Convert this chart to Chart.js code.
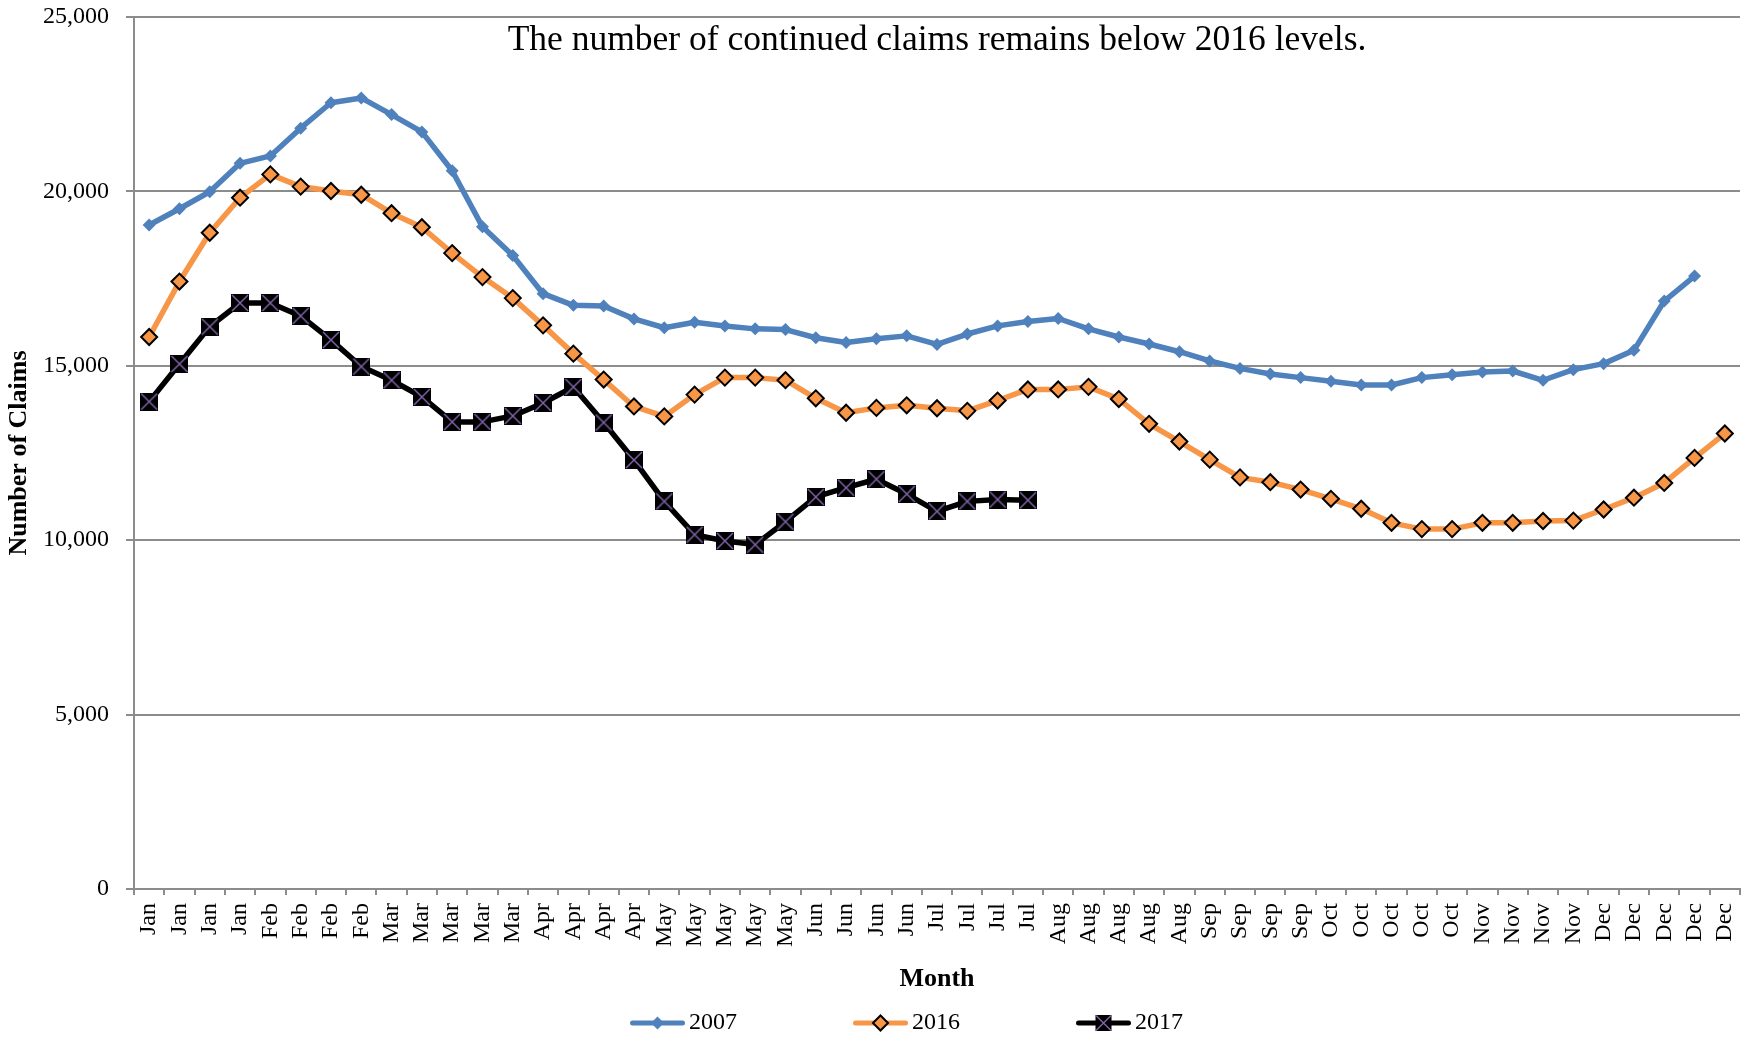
<!DOCTYPE html>
<html>
<head>
<meta charset="utf-8">
<script src="https://cdn.jsdelivr.net/npm/chart.js@4.4.0/dist/chart.umd.min.js"></script>
<style>
html,body{margin:0;padding:0;background:#ffffff;overflow:hidden;}
#wrap{width:1750px;height:1037px;position:relative;background:#ffffff;}
</style>
</head>
<body>
<div id="wrap"><canvas id="c" width="1750" height="1037"></canvas></div>
<script>
// ---- data ----
const weekLabels = ['Jan','Jan','Jan','Jan','Feb','Feb','Feb','Feb','Mar','Mar','Mar','Mar','Mar',
  'Apr','Apr','Apr','Apr','May','May','May','May','May','Jun','Jun','Jun','Jun','Jul','Jul','Jul','Jul',
  'Aug','Aug','Aug','Aug','Aug','Sep','Sep','Sep','Sep','Oct','Oct','Oct','Oct','Oct',
  'Nov','Nov','Nov','Nov','Dec','Dec','Dec','Dec','Dec'];

const claims2007 = [19036,19502,19990,20805,21017,21812,22542,22680,22203,21706,
  20593,18983,18164,17068,16733,16713,16345,16091,16250,16144,
  16059,16038,15805,15668,15774,15858,15614,15911,16144,16271,
  16356,16059,15826,15625,15403,15138,14926,14767,14661,14555,
  14449,14449,14661,14746,14820,14851,14585,14890,15062,15443,
  16856,17571];

const claims2016 = [15826,17415,18814,19820,20487,20138,20011,19905,19375,18973,
  18231,17543,16941,16160,15349,14605,13835,13549,14174,14661,
  14661,14587,14068,13655,13793,13867,13782,13708,14004,14322,
  14322,14396,14047,13337,12829,12310,11801,11663,11452,11187,
  10901,10498,10318,10318,10498,10498,10551,10562,10880,11219,
  11642,12360,13058];

const claims2017 = [13973,15053,16123,16801,16801,16430,15742,14979,14585,14107,
  13391,13391,13563,13935,14393,13373,12299,11113,10159,9979,
  9873,10530,11240,11505,11748,11324,10826,11113,11166,11145];

const seriesNames = ['2007','2016','2017'];
const yMin = 0, yMax = 25000, yStep = 5000;
const chartTitle = 'The number of continued claims remains below 2016 levels.';
const yAxisTitle = 'Number of Claims';
const xAxisTitle = 'Month';

// ---- styling ----
const BLUE = '#4F81BD', ORANGE = '#F79646', BLACK = '#000000', PURPLE = '#7F63A6';
const GRID = '#8c8c8c';
const FONT = "'Liberation Serif', 'DejaVu Serif', serif";
const LINE_W = 5.5;

function mk(w, h) { const c = document.createElement('canvas'); c.width = w; c.height = h; return c; }

function drawDiamond(g, cx, cy, r, fill, stroke, sw) {
  g.beginPath();
  g.moveTo(cx - r, cy); g.lineTo(cx, cy - r); g.lineTo(cx + r, cy); g.lineTo(cx, cy + r); g.closePath();
  g.fillStyle = fill; g.fill();
  if (stroke) { g.lineWidth = sw; g.strokeStyle = stroke; g.lineJoin = 'miter'; g.stroke(); }
}
function drawXSquare(g, cx, cy, s) {
  g.fillStyle = BLACK;
  g.fillRect(cx - s / 2, cy - s / 2, s, s);
  g.strokeStyle = PURPLE; g.lineWidth = 1.5;
  g.beginPath();
  g.moveTo(cx - s / 2 + 1, cy - s / 2 + 1); g.lineTo(cx + s / 2 - 1, cy + s / 2 - 1);
  g.moveTo(cx + s / 2 - 1, cy - s / 2 + 1); g.lineTo(cx - s / 2 + 1, cy + s / 2 - 1);
  g.stroke();
}

// marker image for 2017 (black square with purple cross)
const mark2017 = (function () { const c = mk(18, 18); drawXSquare(c.getContext('2d'), 9, 9, 18); return c; })();

// legend samples: line + marker, drawn at the right part of a wider transparent image
const LEG_BOX = 130;
function legendImage(idx) {
  const W = LEG_BOX + 16, H = 24, c = mk(W, H), g = c.getContext('2d');
  const cy = H / 2, cx = W - 27.5;
  const col = [BLUE, ORANGE, BLACK][idx];
  g.strokeStyle = col; g.lineWidth = 5; g.lineCap = 'round';
  g.beginPath(); g.moveTo(W - 55 + 2.5, cy); g.lineTo(W - 2.5, cy); g.stroke();
  if (idx === 0) drawDiamond(g, cx, cy, 6.5, BLUE);
  else if (idx === 1) drawDiamond(g, cx, cy, 7.5, ORANGE, BLACK, 2);
  else drawXSquare(g, cx, cy, 16);
  return c;
}
const legendImgs = [0, 1, 2].map(legendImage);

const ctx = document.getElementById('c').getContext('2d');
new Chart(ctx, {
  type: 'line',
  data: {
    labels: weekLabels,
    datasets: [
      { label: seriesNames[0], data: claims2007, borderColor: BLUE, backgroundColor: BLUE,
        borderWidth: LINE_W, tension: 0, borderJoinStyle: 'round', borderCapStyle: 'round',
        pointStyle: 'rectRot', pointRadius: 6.5, pointBackgroundColor: BLUE, pointBorderWidth: 0 },
      { label: seriesNames[1], data: claims2016, borderColor: ORANGE, backgroundColor: ORANGE,
        borderWidth: LINE_W, tension: 0, borderJoinStyle: 'round', borderCapStyle: 'round',
        pointStyle: 'rectRot', pointRadius: 8, pointBackgroundColor: ORANGE, pointBorderColor: BLACK, pointBorderWidth: 2 },
      { label: seriesNames[2], data: claims2017, borderColor: BLACK, backgroundColor: BLACK,
        borderWidth: LINE_W, tension: 0, borderJoinStyle: 'round', borderCapStyle: 'round',
        pointStyle: mark2017, pointRadius: 9, pointBorderWidth: 0 }
    ]
  },
  options: {
    responsive: false,
    animation: false,
    events: [],
    devicePixelRatio: 1,
    layout: { padding: { left: -10, right: 10, top: 0, bottom: -8 } },
    plugins: {
      tooltip: { enabled: false },
      title: {
        display: true, text: chartTitle, fullSize: false, align: 'center', color: BLACK,
        font: { family: FONT, size: 35.5, weight: 'normal', lineHeight: 1 },
        padding: { top: 23, bottom: -41.5 }
      },
      legend: {
        display: true, position: 'bottom', align: 'center',
        labels: {
          usePointStyle: true, pointStyleWidth: LEG_BOX, padding: 33, color: BLACK,
          font: { family: FONT, size: 24 },
          generateLabels: (chart) => chart.data.datasets.map((ds, i) => ({
            text: ds.label, pointStyle: legendImgs[i], datasetIndex: i,
            fillStyle: ds.borderColor, strokeStyle: ds.borderColor, lineWidth: 0,
            hidden: false, fontColor: BLACK
          }))
        }
      }
    },
    scales: {
      x: {
        type: 'category',
        offset: true,
        grid: { display: true, drawOnChartArea: false, drawTicks: true, tickLength: 6, offset: true, color: GRID, lineWidth: 2 },
        border: { display: true, color: GRID, width: 2 },
        ticks: { autoSkip: false, maxRotation: 90, minRotation: 90, padding: 8, color: BLACK,
                 font: { family: FONT, size: 24 } },
        title: { display: true, text: xAxisTitle, color: BLACK,
                 font: { family: FONT, size: 26, weight: 'bold', lineHeight: 1.2 },
                 padding: { top: 0, bottom: -16.6 } },
        afterFit: (s) => { s.height = 89; s.paddingLeft = 0; s.paddingRight = 0; }
      },
      y: {
        min: yMin, max: yMax,
        grid: { display: true, drawOnChartArea: true, drawTicks: true, tickLength: 8, color: GRID, lineWidth: 2 },
        border: { display: true, color: GRID, width: 2 },
        ticks: { stepSize: yStep, padding: 17, color: BLACK, font: { family: FONT, size: 24 } },
        title: { display: true, text: yAxisTitle, color: BLACK,
                 font: { family: FONT, size: 26, weight: 'bold', lineHeight: 1.2 },
                 padding: { top: 13.4, bottom: 0 } },
        afterFit: (s) => { s.width = 144; s.paddingTop = 0; s.paddingBottom = 0; }
      }
    }
  }
});
</script>
</body>
</html>
